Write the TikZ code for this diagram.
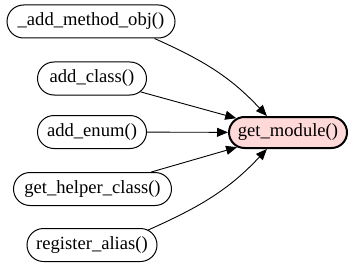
\documentclass[tikz,border=0pt]{standalone}
\usepackage{fontspec}
\setmainfont{Liberation Serif}
\usetikzlibrary{shapes.misc,arrows.meta}
\begin{document}
\begin{tikzpicture}[x=1pt,y=1pt,
  fn/.style={rounded rectangle, draw=black, line width=1pt, fill=white,
    minimum height=33pt, inner xsep=0pt, inner ysep=0pt,
    font=\fontsize{18.6}{20}\selectfont},
  target/.style={fn, fill=pinkfill, line width=2pt, minimum height=31pt},
  call/.style={line width=0.9pt, -{Triangle[length=11pt,width=9pt]}}]
\definecolor{pinkfill}{HTML}{FFD8D8}
\useasboundingbox (0,0) rectangle (352,-267);
% callers
\node[fn, minimum width=168pt] (m1) at (91,-21.5) {\_add\_method\_obj()};
\node[fn, minimum width=109pt] (m2) at (92,-78.5) {add\_class()};
\node[fn, minimum width=109pt] (m3) at (92,-132) {add\_enum()};
\node[fn, minimum width=158pt] (m4) at (92.5,-189) {get\_helper\_class()};
\node[fn, minimum width=130pt] (m5) at (92,-245) {register\_alias()};
% callee
\node[target, minimum width=118pt] (g) at (288,-132.5) {get\_module()};
% call edges
\draw[call] (m1.-15) to[out=-24,in=133] (g.142);
\draw[call] (m2) -- (g);
\draw[call] (m3) -- (g);
\draw[call] (m4) -- (g);
\draw[call] (m5.15) to[out=24,in=-133] (g.-142);
\end{tikzpicture}
\end{document}
